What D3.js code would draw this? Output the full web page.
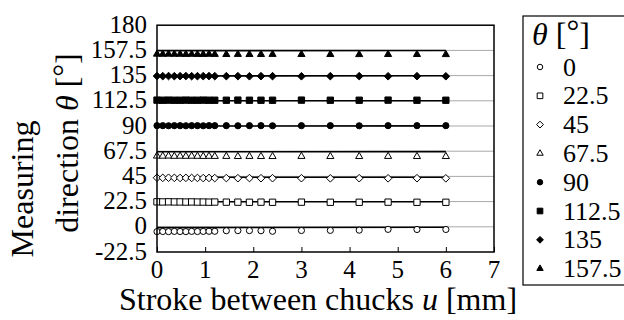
<!DOCTYPE html>
<html>
<head>
<meta charset="utf-8">
<script src="https://cdn.jsdelivr.net/npm/d3@7"></script>
<style>
  body { margin: 0; background: #fff; }
</style>
</head>
<body>
<div id="chart"></div>
<script>
// stroke between chucks u [mm]
var strokeU = [0, 0.12, 0.24, 0.36, 0.48, 0.6, 0.72, 0.84, 0.96, 1.08, 1.2,
	1.44, 1.68, 1.92, 2.16, 2.4, 3, 3.6, 4.2, 4.8, 5.4, 6];

// nominal angles (legend)
var angles = ["0", "22.5", "45", "67.5", "90", "112.5", "135", "157.5"];

// measured direction theta for each nominal angle
var theta0 = [-4.3, -4.2, -4.3, -4.1, -4.2, -4.3, -4.1, -4.2, -4.1, -4.0, -4.0,
	-3.5, -3.4, -3.4, -3.5, -4.0, -3.3, -3.2, -3.0, -2.3, -2.4, -2.4];
var theta22 = [22.3, 22.2, 22.3, 22.2, 22.2, 22.1, 22.2, 22.1, 22.1, 22.0, 22.1,
	22.0, 22.0, 21.9, 22.0, 21.9, 22.0, 21.9, 21.9, 22.0, 21.9, 21.9];
var theta45 = [43.8, 43.7, 43.8, 43.7, 43.6, 43.7, 43.6, 43.6, 43.5, 43.6, 43.5,
	43.5, 43.4, 43.5, 43.4, 43.4, 43.4, 43.3, 43.4, 43.3, 43.4, 43.3];
var theta67 = [63.2, 63.1, 63.2, 63.0, 63.1, 63.0, 63.1, 63.0, 62.9, 63.0, 62.9,
	62.9, 62.8, 62.9, 62.8, 62.8, 62.9, 62.8, 62.8, 62.9, 62.8, 62.8];
var theta90 = [90.3, 90.3, 90.2, 90.3, 90.3, 90.2, 90.3, 90.3, 90.2, 90.3, 90.3,
	90.3, 90.2, 90.3, 90.3, 90.2, 90.3, 90.3, 90.2, 90.3, 90.3, 90.3];
var theta112 = [113.1, 113.0, 113.1, 113.0, 113.0, 113.1, 113.0, 113.0, 113.1, 113.0, 113.0,
	113.0, 113.1, 113.0, 113.0, 113.0, 113.1, 113.0, 113.0, 113.1, 113.0, 113.0];
var theta135 = [134.6, 134.5, 134.6, 134.5, 134.5, 134.6, 134.5, 134.5, 134.5, 134.6, 134.5,
	134.5, 134.5, 134.4, 134.5, 134.5, 134.4, 134.5, 134.5, 134.4, 134.5, 134.4];
var theta157 = [154.2, 154.1, 154.2, 154.1, 154.1, 154.0, 154.1, 154.0, 154.0, 154.1, 154.0,
	153.9, 154.0, 153.9, 153.9, 154.0, 153.9, 153.9, 153.8, 153.9, 153.9, 153.8];

// fitted line per angle, value at u = 0 and u = 6
var fitU = [0, 6];
var fitStart = [-0.7, 22.4, 44.2, 67.0, 90.0, 112.5, 134.7, 157.3];
var fitEnd = [-0.4, 22.4, 44.3, 67.1, 90.1, 112.6, 134.8, 157.4];

var xTicks = [0, 1, 2, 3, 4, 5, 6, 7];
var yTicks = [-22.5, 0, 22.5, 45, 67.5, 90, 112.5, 135, 157.5, 180];
var yTickLabels = ["-22.5", "0", "22.5", "45", "67.5", "90", "112.5", "135", "157.5", "180"];

var seriesValues = [theta0, theta22, theta45, theta67, theta90, theta112, theta135, theta157];

// custom diamond, wider than d3's
var diamond = {
	draw: function(context, size) {
		var r = Math.sqrt(size / 2);
		context.moveTo(0, -r);
		context.lineTo(r, 0);
		context.lineTo(0, r);
		context.lineTo(-r, 0);
		context.closePath();
	}
};
var shapes = [d3.symbolCircle, d3.symbolSquare, diamond, d3.symbolTriangle,
	d3.symbolCircle, d3.symbolSquare, diamond, d3.symbolTriangle];
var sizes = [30, 40, 29, 22, 30, 40, 29, 22];

var svgWidth = 624;
var svgHeight = 320;

var svg = d3.select("#chart")
	.append("svg")
	.attr("width", svgWidth)
	.attr("height", svgHeight);

var plot = {left: 157, right: 494, top: 25.2, bottom: 252};

var xScale = d3.scaleLinear().domain([0, 7]).range([plot.left, plot.right]);
var yScale = d3.scaleLinear().domain([-22.5, 180]).range([plot.bottom, plot.top]);

// gridlines
svg.append("g")
	.selectAll("line")
	.data(yTicks.slice(1, -1))
	.enter()
	.append("line")
	.attr("x1", plot.left)
	.attr("x2", plot.right)
	.attr("y1", d => yScale(d))
	.attr("y2", d => yScale(d))
	.attr("stroke", "#a8a8a8")
	.attr("stroke-width", 1);

// inner x ticks
var bottomAxis = d3.axisTop(xScale).tickValues(xTicks).tickSize(5).tickFormat("");
svg.append("g")
	.attr("transform", `translate(0, ${plot.bottom})`)
	.call(bottomAxis)
	.call(g => g.select(".domain").remove())
	.selectAll("line").attr("stroke", "#000").attr("stroke-width", 1);

// fitted lines
var line = d3.line().x(d => xScale(d[0])).y(d => yScale(d[1]));
svg.append("g")
	.selectAll("path")
	.data(angles.map((a, i) => [[fitU[0], fitStart[i]], [fitU[1], fitEnd[i]]]))
	.enter()
	.append("path")
	.attr("d", line)
	.attr("fill", "none")
	.attr("stroke", "#000")
	.attr("stroke-width", 1.6);

// markers
seriesValues.forEach(function(vals, i) {
	var filled = i >= 4;
	svg.append("g")
		.selectAll("path")
		.data(strokeU.map((u, j) => [u, vals[j]]))
		.enter()
		.append("path")
		.attr("transform", d => `translate(${xScale(d[0])}, ${yScale(d[1])})`)
		.attr("d", d3.symbol().type(shapes[i]).size(sizes[i]))
		.attr("fill", filled ? "#000" : "#fff")
		.attr("stroke", "#000")
		.attr("stroke-width", 1);
});

// frame
svg.append("rect")
	.attr("x", plot.left)
	.attr("y", plot.top)
	.attr("width", plot.right - plot.left)
	.attr("height", plot.bottom - plot.top)
	.attr("fill", "none")
	.attr("stroke", "#000")
	.attr("stroke-width", 1.5);

// y tick labels
svg.append("g")
	.selectAll("text")
	.data(yTicks)
	.enter()
	.append("text")
	.attr("x", plot.left - 10)
	.attr("y", d => yScale(d))
	.attr("dy", "0.3em")
	.attr("text-anchor", "end")
	.attr("font-size", 25)
	.text((d, i) => yTickLabels[i]);

// x tick labels
svg.append("g")
	.selectAll("text")
	.data(xTicks)
	.enter()
	.append("text")
	.attr("x", d => xScale(d))
	.attr("y", 278)
	.attr("text-anchor", "middle")
	.attr("font-size", 25)
	.text(d => d);

// x title
var xTitle = svg.append("text")
	.attr("x", 318)
	.attr("y", 310)
	.attr("text-anchor", "middle")
	.attr("font-size", 32);
xTitle.append("tspan").text("Stroke between chucks ");
xTitle.append("tspan").attr("font-style", "italic").text("u");
xTitle.append("tspan").text(" [mm]");

// y title, two lines
svg.append("text")
	.attr("transform", "translate(33, 189) rotate(-90)")
	.attr("text-anchor", "middle")
	.attr("font-size", 32)
	.text("Measuring");

var yTitle2 = svg.append("text")
	.attr("transform", "translate(78, 143) rotate(-90)")
	.attr("text-anchor", "middle")
	.attr("font-size", 32);
yTitle2.append("tspan").text("direction ");
yTitle2.append("tspan").attr("font-style", "italic").text("θ");
yTitle2.append("tspan").text(" [");
yTitle2.append("tspan").attr("dy", -3).text("°");
yTitle2.append("tspan").attr("dy", 3).text("]");

// legend
var legend = svg.append("g");
legend.append("rect")
	.attr("x", 523)
	.attr("y", 16)
	.attr("width", 110)
	.attr("height", 269)
	.attr("fill", "none")
	.attr("stroke", "#000")
	.attr("stroke-width", 1.2);

var legTitle = legend.append("text")
	.attr("x", 532)
	.attr("y", 45)
	.attr("font-size", 32);
legTitle.append("tspan").attr("font-style", "italic").text("θ");
legTitle.append("tspan").text(" [");
legTitle.append("tspan").attr("dy", -3).text("°");
legTitle.append("tspan").attr("dy", 3).text("]");

var rowY = d3.scaleLinear().domain([0, 7]).range([67, 268.6]);
angles.forEach(function(a, i) {
	legend.append("path")
		.attr("transform", `translate(540, ${rowY(i)})`)
		.attr("d", d3.symbol().type(shapes[i]).size(sizes[i] * 0.8))
		.attr("fill", i >= 4 ? "#000" : "#fff")
		.attr("stroke", "#000")
		.attr("stroke-width", 1);
	legend.append("text")
		.attr("x", 563)
		.attr("y", rowY(i))
		.attr("dy", "0.33em")
		.attr("font-size", 26)
		.text(a);
});

// serif font set on every text element
svg.selectAll("text, tspan").style("font-family", '"Liberation Serif"');
</script>
</body>
</html>
